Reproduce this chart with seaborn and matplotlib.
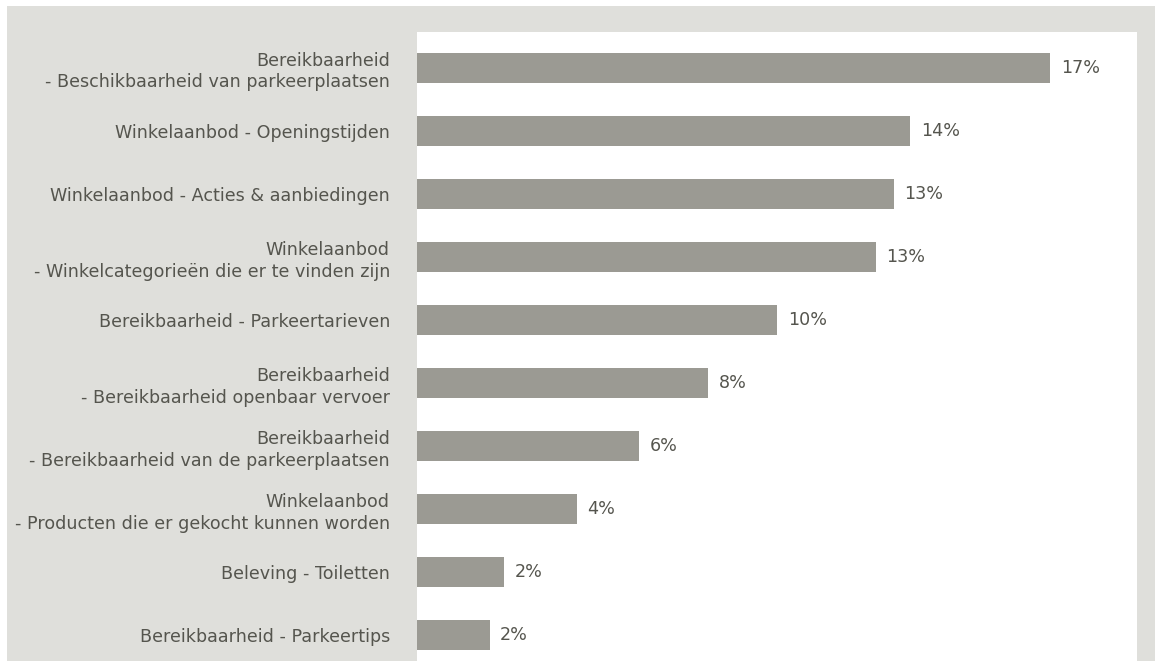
import matplotlib
matplotlib.use("Agg")
import matplotlib.pyplot as plt
import seaborn as sns
import pandas as pd
from matplotlib.patches import Rectangle

categories = [
    "Bereikbaarheid\n- Beschikbaarheid van parkeerplaatsen",
    "Winkelaanbod - Openingstijden",
    "Winkelaanbod - Acties & aanbiedingen",
    "Winkelaanbod\n- Winkelcategorieën die er te vinden zijn",
    "Bereikbaarheid - Parkeertarieven",
    "Bereikbaarheid\n- Bereikbaarheid openbaar vervoer",
    "Bereikbaarheid\n- Bereikbaarheid van de parkeerplaatsen",
    "Winkelaanbod\n- Producten die er gekocht kunnen worden",
    "Beleving - Toiletten",
    "Bereikbaarheid - Parkeertips",
]
values = [17.4, 13.55, 13.1, 12.6, 9.9, 8.0, 6.1, 4.4, 2.4, 2.0]
value_labels = ["17%", "14%", "13%", "13%", "10%", "8%", "6%", "4%", "2%", "2%"]

df = pd.DataFrame({"cat": categories, "val": values})

sns.set_theme(style="white")
plt.rcParams["font.family"] = ["DejaVu Sans"]

W, H = 1155, 661
fig = plt.figure(figsize=(W / 100, H / 100), dpi=100)
fig.patch.set_facecolor("white")
bg = "#dfdfdb"
fig.patches.append(Rectangle((7 / W, 0), 1 - 7 / W, 1 - 6 / H,
                             transform=fig.transFigure, facecolor=bg,
                             edgecolor="none", zorder=-10))

ax = fig.add_axes([417 / W, 0, (1137 - 417) / W, (661 - 32) / H])
ax.set_facecolor("white")

sns.barplot(data=df, x="val", y="cat", orient="h", color="#9b9a93",
            width=0.47, saturation=1, ax=ax, edgecolor="none")

ax.set_xlim(0, 720 / 36.4)
ax.set_ylim(9.41, -0.57)
ax.set_xlabel("")
ax.set_ylabel("")
ax.set_xticks([])
for s in ax.spines.values():
    s.set_visible(False)

ax.tick_params(axis="y", length=0, pad=19.5)
ax.set_yticks(range(len(categories)))
ax.set_yticklabels(categories, fontsize=12.6, color="#55554e",
                   linespacing=1.25, ha="right")

for i, (v, lab) in enumerate(zip(values, value_labels)):
    ax.annotate(lab, (v, i), xytext=(7.5, 0), textcoords="offset points",
                ha="left", va="center", fontsize=12.6, color="#55554e")

fig.savefig("out.png", dpi=100, facecolor=fig.get_facecolor())
